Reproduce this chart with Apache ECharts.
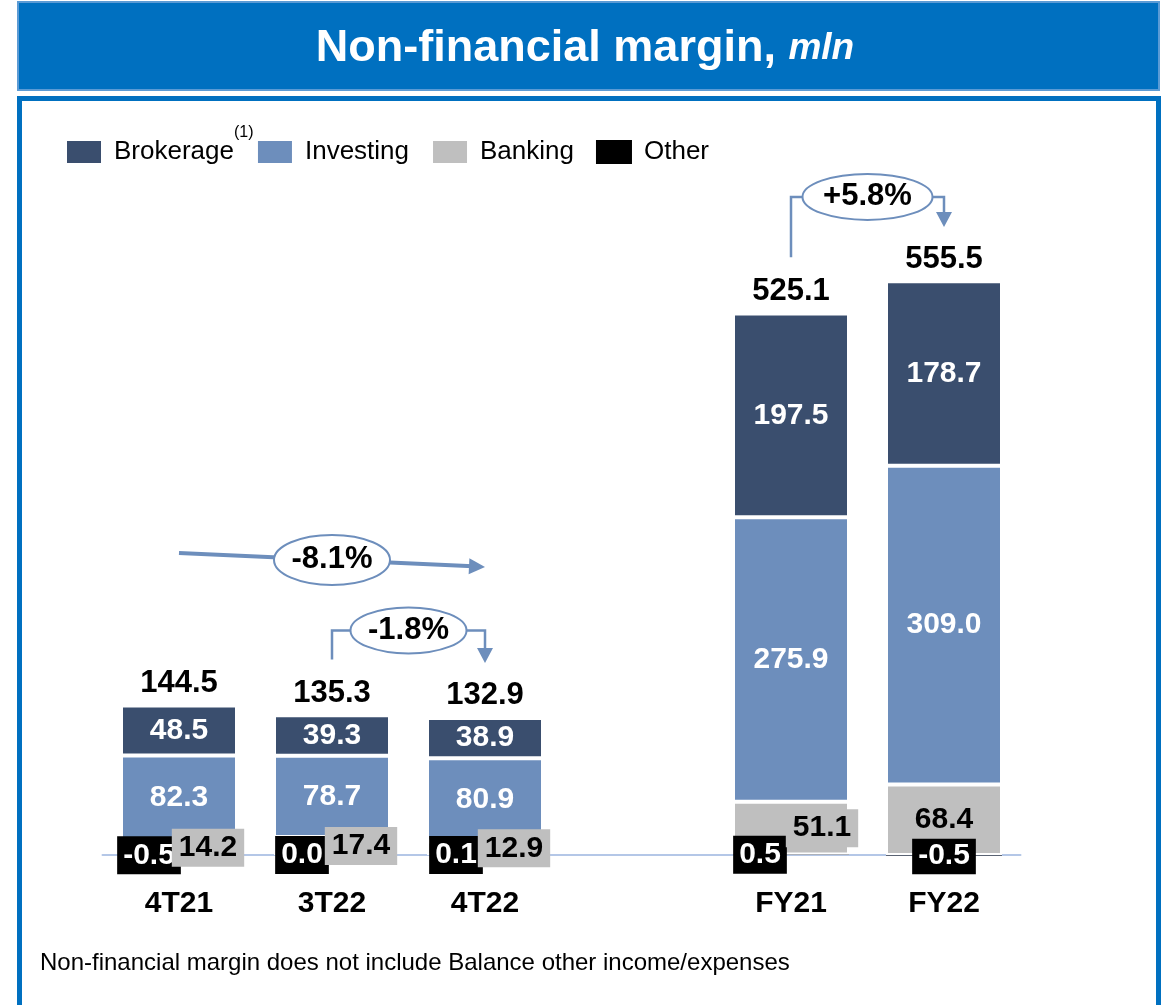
<!DOCTYPE html>
<html lang="en">

<head>
    <meta charset="UTF-8">
    <title>Non-financial margin</title>
    <style>
        body { margin: 0; background: #fff; }
        #main { width: 1170px; height: 1005px; }
    </style>
</head>

<body>
    <div id="main"></div>
    <script src="https://cdn.jsdelivr.net/npm/echarts@6.0.0/dist/echarts.min.js"></script>
    <script>
    // data
    var categories = ['4T21', '3T22', '4T22', '', 'FY21', 'FY22'];
    var brokerage = [48.5, 39.3, 38.9, null, 197.5, 178.7];
    var investing = [82.3, 78.7, 80.9, null, 275.9, 309.0];
    var banking = [14.2, 17.4, 12.9, null, 51.1, 68.4];
    var other = [-0.5, 0.0, 0.1, null, 0.5, -0.5];
    var totals = [144.5, 135.3, 132.9, null, 525.1, 555.5];
    // growth callouts: from index, to index, text
    var growthFrom = [0, 1, 4];
    var growthTo = [2, 2, 5];
    var growthText = ['-8.1%', '-1.8%', '+5.8%'];

    // label shifts (style only)
    var otherShift = [-30, -30, -29, 0, -31, 0];
    var bankingShift = [29, 29, 29, 0, 31, 0];

    var FONT = 'Arial, "Liberation Sans", sans-serif';
    var C_BROK = '#3A4E6E';
    var C_INV = '#6D8EBC';
    var C_BANK = '#BFBFBF';
    var C_LINE = '#6D8EBC';

    var myChart = echarts.init(document.getElementById('main'));

    function fmt(p) {
        return p.value == null ? '' : Number(p.value).toFixed(1);
    }

    var option = {
        animation: false,
        textStyle: { fontFamily: FONT },
        title: {
            text: '{a|Non-financial margin, }{b|mln}',
            left: 'center',
            top: 21,
            textStyle: {
                rich: {
                    a: { fontSize: 45, fontWeight: 'bold', color: '#fff', fontFamily: FONT },
                    b: { fontSize: 37, fontWeight: 'bold', fontStyle: 'italic', color: '#fff', fontFamily: FONT }
                }
            }
        },
        legend: {
            data: ['Brokerage', 'Investing', 'Banking', 'Other'],
            left: 60,
            top: 134,
            itemWidth: 36,
            itemHeight: 24,
            itemGap: 22,
            icon: 'rect',
            textStyle: { fontSize: 26, color: '#000', padding: [0, 0, 0, 7] }
        },
        grid: { left: 102.5, right: 149.5, top: 236, bottom: 150 },
        xAxis: {
            type: 'category',
            data: categories,
            axisTick: { show: false },
            axisLine: { lineStyle: { color: '#B4C7E7', width: 2 } },
            axisLabel: { fontSize: 30, fontWeight: 'bold', color: '#000', margin: 34 }
        },
        yAxis: {
            type: 'value',
            min: 0,
            max: 600,
            show: false,
            splitLine: { show: false }
        },
        series: [{
            name: 'Other',
            type: 'bar',
            stack: 'nfm',
            barWidth: 116,
            clip: false,
            itemStyle: { color: '#000' },
            data: other.map(function(v, i) {
                return { value: v, label: { offset: [otherShift[i], 0] } };
            }),
            label: {
                show: true,
                position: 'inside',
                formatter: fmt,
                color: '#fff',
                fontSize: 30,
                fontWeight: 'bold',
                backgroundColor: '#000',
                padding: [4, 6, 4, 6]
            }
        }, {
            name: 'Banking',
            type: 'bar',
            stack: 'nfm',
            itemStyle: { color: C_BANK, borderColor: '#fff', borderWidth: 2 },
            data: banking.map(function(v, i) {
                return { value: v, label: { offset: [bankingShift[i], 0] } };
            }),
            label: {
                show: true,
                position: 'inside',
                formatter: fmt,
                color: '#000',
                fontSize: 30,
                fontWeight: 'bold',
                backgroundColor: C_BANK,
                padding: [4, 7, 4, 7]
            }
        }, {
            name: 'Investing',
            type: 'bar',
            stack: 'nfm',
            itemStyle: { color: C_INV, borderColor: '#fff', borderWidth: 2 },
            data: investing,
            label: {
                show: true,
                position: 'inside',
                formatter: fmt,
                color: '#fff',
                fontSize: 30,
                fontWeight: 'bold'
            }
        }, {
            name: 'Brokerage',
            type: 'bar',
            stack: 'nfm',
            itemStyle: { color: C_BROK, borderColor: '#fff', borderWidth: 2 },
            data: brokerage,
            label: {
                show: true,
                position: 'inside',
                formatter: fmt,
                color: '#fff',
                fontSize: 30,
                fontWeight: 'bold'
            }
        }, {
            // totals above the bars
            name: 'Total',
            type: 'scatter',
            symbolSize: 1,
            itemStyle: { color: 'rgba(0,0,0,0)', opacity: 1 },
            z: 5,
            data: totals,
            label: {
                show: true,
                position: 'top',
                distance: 6,
                formatter: fmt,
                color: '#000',
                fontSize: 31,
                fontWeight: 'bold'
            }
        }]
    };

    myChart.setOption(option);

    // frame, title bar, footnote and growth callouts
    function px(i, v) {
        return myChart.convertToPixel({ gridIndex: 0 }, [i, v]);
    }

    var graphics = [{
        type: 'rect',
        z: -10,
        shape: { x: 18, y: 2, width: 1141, height: 88 },
        style: { fill: '#0070C0', stroke: '#5B9BD5', lineWidth: 2 }
    }, {
        type: 'rect',
        z: -10,
        shape: { x: 19.5, y: 98.5, width: 1139, height: 940 },
        style: { fill: 'none', stroke: '#0070C0', lineWidth: 5 }
    }, {
        type: 'text',
        x: 234,
        y: 125,
        style: { text: '(1)', fontSize: 16, fill: '#000', fontFamily: FONT }
    }, {
        type: 'text',
        x: 40,
        y: 963,
        style: {
            text: 'Non-financial margin does not include Balance other income/expenses',
            fontSize: 24,
            fill: '#000',
            fontFamily: FONT,
            verticalAlign: 'middle'
        }
    }];

    function addEllipse(cx, cy, rx, ry, text) {
        graphics.push({
            type: 'ellipse',
            z: 20,
            shape: { cx: cx, cy: cy, rx: rx, ry: ry },
            style: { fill: '#fff', stroke: C_LINE, lineWidth: 2 }
        });
        graphics.push({
            type: 'text',
            z: 21,
            x: cx,
            y: cy,
            style: {
                text: text,
                fontSize: 31,
                fontWeight: 'bold',
                fill: '#000',
                fontFamily: FONT,
                align: 'center',
                verticalAlign: 'middle'
            }
        });
    }

    function addArrowHead(tipX, tipY, dx, dy, len, half) {
        var d = Math.sqrt(dx * dx + dy * dy);
        var ux = dx / d, uy = dy / d;
        var bx = tipX - ux * len, by = tipY - uy * len;
        graphics.push({
            type: 'polygon',
            z: 19,
            shape: { points: [[tipX, tipY], [bx - uy * half, by + ux * half], [bx + uy * half, by - ux * half]] },
            style: { fill: C_LINE }
        });
    }

    function addCallout(a, b, text) {
        var pa = px(a, totals[a]), pb = px(b, totals[b]);
        if (b - a > 1) {
            // long sloped arrow over the middle bar
            var sx = pa[0], sy = pa[1] - 153;
            var ex = pb[0], ey = pb[1] - 151;
            var dx = ex - sx, dy = ey - sy;
            var d = Math.sqrt(dx * dx + dy * dy);
            graphics.push({
                type: 'line',
                z: 18,
                shape: { x1: sx, y1: sy, x2: ex - dx / d * 12, y2: ey - dy / d * 12 },
                style: { stroke: C_LINE, lineWidth: 4 }
            });
            addArrowHead(ex, ey, dx, dy, 16, 8);
            var mx = px(a + 1, 0)[0];
            addEllipse(mx, sy + (mx - sx) / dx * dy, 58, 25, text);
        } else {
            // bracket arrow
            var yTop = Math.min(pa[1], pb[1]) - 85;
            var tipY = pb[1] - 55;
            graphics.push({
                type: 'polyline',
                z: 18,
                shape: { points: [[pa[0], pa[1] - 56], [pa[0], yTop], [pb[0], yTop], [pb[0], tipY - 12]] },
                style: { stroke: C_LINE, lineWidth: 2.5, fill: null }
            });
            addArrowHead(pb[0], tipY, 0, 1, 15, 8);
            addEllipse((pa[0] + pb[0]) / 2, yTop, b === 5 ? 65 : 58, 23, text);
        }
    }

    for (var k = 0; k < growthText.length; k++) {
        addCallout(growthFrom[k], growthTo[k], growthText[k]);
    }

    myChart.setOption({ graphic: graphics });
    </script>
</body>

</html>
